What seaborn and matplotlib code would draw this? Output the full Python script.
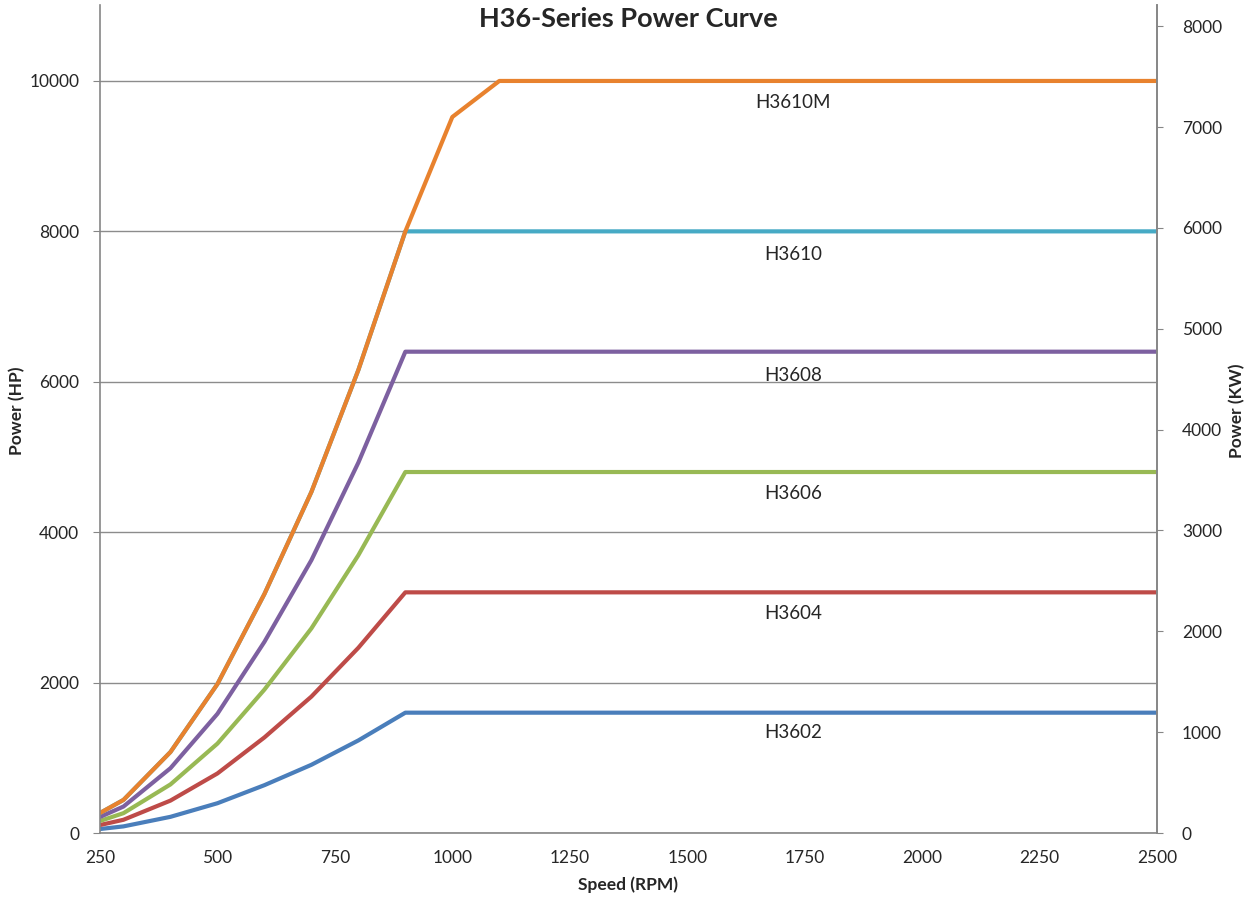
import numpy as np
import pandas as pd
import seaborn as sns
import matplotlib.pyplot as plt

# Drehzahl (RPM) und Leistung (HP)
speed = [250, 300, 400, 500, 600, 700, 800, 900, 2500]
speedM = [250, 300, 400, 500, 600, 700, 800, 900, 1000, 1100, 2500]

h3602 = [53, 88, 215, 396, 636, 907, 1231, 1600, 1600]
h3604 = [106, 176, 431, 792, 1271, 1814, 2463, 3200, 3200]
h3606 = [160, 264, 646, 1189, 1907, 2721, 3694, 4800, 4800]
h3608 = [213, 352, 862, 1585, 2542, 3628, 4926, 6400, 6400]
h3610 = [266, 440, 1077, 1981, 3178, 4535, 6157, 8000, 8000]
h3610m = [266, 440, 1077, 1981, 3178, 4535, 6157, 8000, 9521, 10000, 10000]

seriesNames = ['H3602', 'H3604', 'H3606', 'H3608', 'H3610', 'H3610M']
seriesColors = ['#4A7EBB', '#BE4B48', '#98B954', '#7D60A0', '#46AAC5', '#E8822E']
labelY = [1330, 2925, 4521, 6090, 7686, 9707]

hpToKw = 0.7457

rows = []
for name, vals in zip(seriesNames[:5], [h3602, h3604, h3606, h3608, h3610]):
    for s, p in zip(speed, vals):
        rows.append({'speed': s, 'power': p, 'model': name})
for s, p in zip(speedM, h3610m):
    rows.append({'speed': s, 'power': p, 'model': 'H3610M'})
df = pd.DataFrame(rows)

sns.set_style('white')
plt.rcParams['font.family'] = ['Lato', 'DejaVu Sans']

fig = plt.figure(figsize=(12.52, 8.99), dpi=100)
ax = fig.add_axes([100 / 1252, 1 - 833 / 899, 1057 / 1252, 828 / 899])

sns.lineplot(data=df, x='speed', y='power', hue='model', hue_order=seriesNames,
             palette=seriesColors, linewidth=3, legend=False, ax=ax, sort=False)

ax.set_xlim(250, 2500)
ax.set_ylim(0, 11010)
ax.set_xticks(np.arange(250, 2501, 250))
ax.set_yticks(np.arange(0, 10001, 2000))
ax.yaxis.grid(True, color='#8C8C8C', linewidth=1)
ax.set_axisbelow(True)
ax.spines['top'].set_visible(False)
for side in ['left', 'bottom', 'right']:
    ax.spines[side].set_color('#868686')
    ax.spines[side].set_linewidth(1.2)
ax.tick_params(axis='both', which='both', direction='out', length=5, color='#868686',
               labelsize=12.5, pad=7)
ax.tick_params(axis='y', length=5, pad=10)
ax.set_xlabel('Speed (RPM)', fontsize=12.5, fontweight='bold')
ax.xaxis.set_label_coords(0.5, -0.052)
ax.set_ylabel('Power (HP)', fontsize=12.5, fontweight='bold', va='center')
ax.yaxis.set_label_coords(-0.078, 0.51)

for name, y in zip(seriesNames, labelY):
    ax.text(1725, y, name, fontsize=13.5, ha='center', va='center')

ax2 = ax.twinx()
ax2.set_ylim(0, 11010 * hpToKw)
ax2.set_yticks(np.arange(0, 8001, 1000))
ax2.spines['top'].set_visible(False)
for side in ['left', 'bottom']:
    ax2.spines[side].set_visible(False)
ax2.spines['right'].set_color('#868686')
ax2.spines['right'].set_linewidth(1.2)
ax2.tick_params(axis='y', direction='out', length=4, color='#868686', labelsize=12.5, pad=14)
ax2.set_ylabel('Power (KW)', fontsize=12.5, fontweight='bold', va='center')
ax2.yaxis.set_label_coords(1.0757, 0.51)

fig.text(628 / 1252, 1 - 19 / 899, 'H36-Series Power Curve', fontsize=19.5,
         fontweight='bold', ha='center', va='center')

fig.savefig('out.png', dpi=100)
